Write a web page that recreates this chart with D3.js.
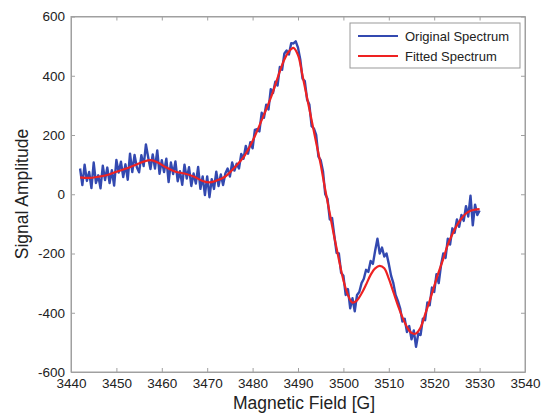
<!DOCTYPE html>
<html>
<head>
<meta charset="utf-8">
<script src="https://cdn.jsdelivr.net/npm/d3@7"></script>
<style>
  body { margin: 0; background: #fff; }
  text { font-family: Arial, "Liberation Sans", sans-serif; fill: #222; }
</style>
</head>
<body>
<script>
// axis ticks
const xTicks = [3440, 3450, 3460, 3470, 3480, 3490, 3500, 3510, 3520, 3530, 3540];
const yTicks = [-600, -400, -200, 0, 200, 400, 600];
const seriesNames = ["Original Spectrum", "Fitted Spectrum"];

// original spectrum, sampled every 0.5 G starting at 3442 G
const origStart = 3442, origStep = 0.5;
const origValue = [
  87, 31, 100, 45, 75, 21, 107, 38, 64, 20,          // 3442 - 3446.5
  96, 48, 90, 38, 81, 29, 116, 73, 110, 58,          // 3447 - 3451.5
  101, 49, 137, 75, 133, 91, 74, 132, 95, 168,       // 3452 - 3456.5
  125, 85, 134, 87, 148, 69, 115, 75, 120, 41,       // 3457 - 3461.5
  107, 68, 111, 44, 78, 32, 100, 53, 91, 28,         // 3462 - 3466.5
  70, 36, 92, 18, 60, -3, 60, -10, 51, 18,           // 3467 - 3471.5
  76, 28, 67, 31, 70, 87, 60, 107, 80, 103,          // 3472 - 3476.5
  87, 136, 120, 163, 137, 176, 155, 217, 220, 212,   // 3477 - 3481.5
  275, 258, 302, 286, 355, 342, 380, 367, 430, 420,  // 3482 - 3486.5
  475, 485, 472, 510, 509, 516, 495, 455, 390, 382,  // 3487 - 3491.5
  320, 303, 230, 222, 200, 127, 115, 78, 0, -15,     // 3492 - 3496.5
  -85, -80, -140, -198, -200, -265, -275, -340, -320, -385, // 3497 - 3501.5
  -351, -395, -340, -330, -300, -285, -255, -262, -225, -235, // 3502 - 3506.5
  -190, -150, -200, -180, -210, -200, -235, -275, -300, -340, // 3507 - 3511.5
  -360, -385, -430, -420, -465, -445, -490, -460, -515, -470, // 3512 - 3516.5
  -475, -420, -425, -365, -375, -315, -330, -270, -300, -240, // 3517 - 3521.5
  -200, -215, -150, -170, -115, -130, -85, -110, -70, -90,    // 3522 - 3526.5
  -40, -75, -5, -105, -35, -70, -55                           // 3527 - 3530
];

// fitted spectrum
const fitField = [3442, 3444, 3446, 3448, 3450, 3452, 3454, 3456, 3457.5, 3459,
  3461, 3463, 3465, 3467, 3469, 3470.5, 3472, 3474, 3476, 3478,
  3480, 3482, 3484, 3486, 3487, 3488, 3489, 3490, 3491, 3492,
  3493, 3494, 3495, 3496, 3497, 3498, 3499, 3500, 3501, 3502,
  3503, 3504, 3505, 3506, 3507, 3508, 3509, 3510, 3511, 3512,
  3513, 3514, 3515, 3516, 3517, 3518, 3519, 3520, 3521, 3522,
  3523, 3524, 3525, 3526, 3527, 3528, 3529, 3530];
const fitValue = [57, 55, 59, 65, 76, 86, 98, 110, 115, 108,
  90, 76, 70, 60, 45, 40, 46, 60, 90, 125,
  180, 250, 325, 415, 455, 482, 494, 470, 400, 325,
  250, 175, 100, 15, -65, -145, -220, -290, -340, -366,
  -358, -335, -305, -272, -250, -242, -250, -285, -330, -375,
  -415, -448, -468, -470, -450, -405, -360, -310, -262, -218,
  -170, -135, -105, -82, -65, -56, -52, -50];

const width = 542, height = 416;
const plotLeft = 71, plotRight = 525, plotTop = 16.5, plotBottom = 372;
const blue = "#3349b0", red = "#ee2222", boxColor = "#a0a0a0";

const svg = d3.select("body")
    .append("svg")
    .attr("width", width)
    .attr("height", height);

const xScale = d3.scaleLinear().domain([3440, 3540]).range([plotLeft, plotRight]);
const yScale = d3.scaleLinear().domain([-600, 600]).range([plotBottom, plotTop]);

const original = origValue.map((v, i) => ({ x: origStart + i * origStep, y: v }));
const fitted = fitField.map((f, i) => ({ x: f, y: fitValue[i] }));

// box
svg.append("rect")
    .attr("x", plotLeft).attr("y", plotTop)
    .attr("width", plotRight - plotLeft).attr("height", plotBottom - plotTop)
    .attr("fill", "none")
    .attr("stroke", boxColor);

const plain = d => String(d);
const xAxis = d3.axisBottom(xScale).tickValues(xTicks).tickFormat(plain)
    .tickSizeInner(-4).tickSizeOuter(0).tickPadding(6);
const yAxis = d3.axisLeft(yScale).tickValues(yTicks).tickFormat(plain)
    .tickSizeInner(-4).tickSizeOuter(0).tickPadding(6);

svg.append("g")
    .attr("transform", "translate(0," + plotBottom + ")")
    .call(xAxis);
svg.append("g")
    .attr("transform", "translate(" + plotLeft + ",0)")
    .call(yAxis);
svg.append("g")
    .attr("transform", "translate(0," + plotTop + ")")
    .call(d3.axisTop(xScale).tickValues(xTicks).tickSizeInner(-4).tickSizeOuter(0).tickFormat(""));
svg.append("g")
    .attr("transform", "translate(" + plotRight + ",0)")
    .call(d3.axisRight(yScale).tickValues(yTicks).tickSizeInner(-4).tickSizeOuter(0).tickFormat(""));

svg.selectAll(".domain").attr("stroke", boxColor);
svg.selectAll(".tick line").attr("stroke", boxColor);
svg.selectAll(".tick text")
    .style("font-size", "13.5px")
    .attr("fill", "#222");

// lines
const line = d3.line().x(d => xScale(d.x)).y(d => yScale(d.y));
svg.append("path")
    .datum(original)
    .attr("fill", "none")
    .attr("stroke", blue)
    .attr("stroke-width", 2.4)
    .attr("stroke-linejoin", "round")
    .attr("d", line);
svg.append("path")
    .datum(fitted)
    .attr("fill", "none")
    .attr("stroke", red)
    .attr("stroke-width", 2.2)
    .attr("d", line.curve(d3.curveCatmullRom));

// axis titles
svg.append("text")
    .attr("x", 304)
    .attr("y", 409)
    .attr("text-anchor", "middle")
    .style("font-size", "17.5px")
    .text("Magnetic Field [G]");
svg.append("text")
    .attr("transform", "translate(28," + 194 + ") rotate(-90)")
    .attr("text-anchor", "middle")
    .style("font-size", "17.5px")
    .text("Signal Amplitude");

// legend
const legend = svg.append("g").attr("id", "legend");
legend.append("rect")
    .attr("x", 350).attr("y", 23)
    .attr("width", 170).attr("height", 45)
    .attr("fill", "#fff")
    .attr("stroke", "#999");
[blue, red].forEach((c, i) => {
    legend.append("line")
        .attr("x1", 358).attr("x2", 398)
        .attr("y1", 36 + i * 20).attr("y2", 36 + i * 20)
        .attr("stroke", c)
        .attr("stroke-width", 2);
    legend.append("text")
        .attr("x", 405)
        .attr("y", 36 + i * 20)
        .attr("dy", "0.35em")
        .style("font-size", "13px")
        .text(seriesNames[i]);
});
</script>
</body>
</html>
